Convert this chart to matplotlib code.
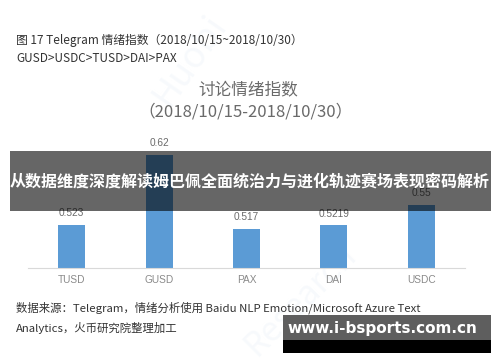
import matplotlib
matplotlib.use('Agg')
import matplotlib.pyplot as plt
from matplotlib.patches import Rectangle

plt.rcParams['font.family'] = ['Noto Sans CJK SC', 'DejaVu Sans']

# 数据
coins = ['TUSD', 'GUSD', 'PAX', 'DAI', 'USDC']
scores = [0.523, 0.62, 0.517, 0.5219, 0.55]
labels = ['0.523', '0.62', '0.517', '0.5219', '0.55']

W, H = 500, 362
fig = plt.figure(figsize=(W/100, H/100), dpi=100)
fig.patch.set_facecolor('white')

def fx(px):  # 像素 -> 图坐标
    return px / W
def fy(py):
    return 1 - py / H

# 图表区
ax = fig.add_axes([fx(28), fy(268), fx(437), (268 - 123.6) / H])
x = range(len(coins))
ax.bar(x, scores, width=0.31, color='#5b9bd5', zorder=2)
ax.set_ylim(0.463, 0.663)
ax.set_xlim(-0.5, 4.5)
for i, v in enumerate(scores):
    ax.annotate(labels[i], (i, v), xytext=(0, 5), textcoords='offset points',
                ha='center', va='bottom', fontsize=7.3, color='#6b6b6b',
                family=['Liberation Sans', 'DejaVu Sans'])
ax.set_xticks(list(x))
ax.set_xticklabels(coins, fontsize=7.3, color='#8a8a8a',
                   family=['Liberation Sans', 'DejaVu Sans'])
ax.tick_params(axis='x', length=0, pad=5)
ax.set_yticks([])
for s in ['top', 'left', 'right']:
    ax.spines[s].set_visible(False)
ax.spines['bottom'].set_color('#d9d9d9')
ax.spines['bottom'].set_linewidth(0.8)
ax.patch.set_alpha(0)

# 顶部文字
fig.text(fx(16), fy(40), '图 17 Telegram 情绪指数（2018/10/15~2018/10/30）',
         fontsize=8.5, color='#333333', va='center', ha='left')
fig.text(fx(16), fy(59), 'GUSD>USDC>TUSD>DAI>PAX',
         fontsize=8.5, color='#333333', va='center', ha='left')
fig.text(fx(248), fy(90), '讨论情绪指数', fontsize=12, color='#6a6a6a',
         va='center', ha='center')
fig.text(fx(246), fy(112), '（2018/10/15-2018/10/30）', fontsize=12,
         color='#6a6a6a', va='center', ha='center')

# 底部来源
fig.text(fx(16), fy(308),
         '数据来源：Telegram，情绪分析使用 Baidu NLP Emotion/Microsoft Azure Text',
         fontsize=8.2, color='#333333', va='center', ha='left')
fig.text(fx(16), fy(328), 'Analytics，火币研究院整理加工',
         fontsize=8.2, color='#333333', va='center', ha='left')

# 水印
fig.text(fx(190), fy(60), 'Huobi', fontsize=26, color='#e6eef6', alpha=0.3,
         rotation=55, ha='center', va='center', zorder=-1)
fig.text(fx(300), fy(300), 'Research', fontsize=24, color='#e6eef6', alpha=0.3,
         rotation=45, ha='center', va='center', zorder=-1)

# 横幅
fig.add_artist(Rectangle((fx(10), fy(211)), fx(481), (211 - 151) / H,
                         transform=fig.transFigure, facecolor='black',
                         alpha=0.6, edgecolor='none', zorder=5))
fig.text(fx(250), fy(182), '从数据维度深度解读姆巴佩全面统治力与进化轨迹赛场表现密码解析',
         fontsize=11.5, color='white', fontweight='bold', va='center',
         ha='center', zorder=6)

# 右下网址框
fig.add_artist(Rectangle((fx(283), fy(353)), fx(208), (353 - 315) / H,
                         transform=fig.transFigure, facecolor='black',
                         edgecolor='none', zorder=5))
fig.add_artist(Rectangle((fx(283), fy(340)), fx(208), (340 - 315) / H,
                         transform=fig.transFigure, facecolor='#5e5e5e',
                         edgecolor='none', zorder=5))
fig.text(fx(382), fy(329), 'www.i-bsports.com.cn', fontsize=11,
         color='white', fontweight='bold', va='center', ha='center', zorder=6,
         family=['DejaVu Sans'])

fig.savefig('out.png', dpi=100)
